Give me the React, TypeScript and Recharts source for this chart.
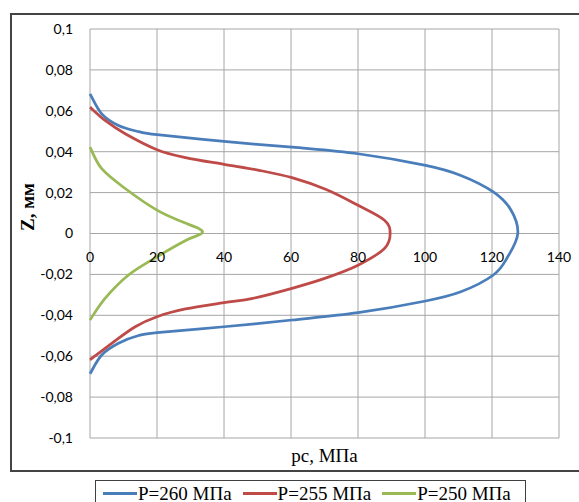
import { CartesianGrid, Legend, Line, LineChart, XAxis, YAxis } from 'recharts';

// pc, MPa ticks and Z, mm ticks
const pTicks = [0, 20, 40, 60, 80, 100, 120, 140];
const zTicks = [-0.1, -0.08, -0.06, -0.04, -0.02, 0, 0.02, 0.04, 0.06, 0.08, 0.1];

// P=260 MPa, points ordered by z
const p260 = [
  { z: -0.0686, p: 0 },
  { z: -0.0594, p: 3.5 },
  { z: -0.0537, p: 8.5 },
  { z: -0.0499, p: 14.5 },
  { z: -0.0485, p: 20 },
  { z: -0.0456, p: 40 },
  { z: -0.0423, p: 60.3 },
  { z: -0.0387, p: 80 },
  { z: -0.033, p: 100.2 },
  { z: -0.0285, p: 110.7 },
  { z: -0.0203, p: 120.4 },
  { z: -0.0114, p: 124.7 },
  { z: 0, p: 127.7 },
  { z: 0.0114, p: 125.7 },
  { z: 0.0203, p: 120.4 },
  { z: 0.0284, p: 110.7 },
  { z: 0.0333, p: 100.2 },
  { z: 0.039, p: 80 },
  { z: 0.0422, p: 60.3 },
  { z: 0.045, p: 40 },
  { z: 0.0483, p: 20 },
  { z: 0.0498, p: 14.5 },
  { z: 0.0528, p: 8.5 },
  { z: 0.0585, p: 3.5 },
  { z: 0.0683, p: 0 },
];

// P=255 MPa
const p255 = [
  { z: -0.0618, p: 0 },
  { z: -0.0537, p: 6.5 },
  { z: -0.0456, p: 13.5 },
  { z: -0.0407, p: 20 },
  { z: -0.0369, p: 28.5 },
  { z: -0.0338, p: 40 },
  { z: -0.0317, p: 48.6 },
  { z: -0.0268, p: 60.3 },
  { z: -0.0217, p: 70.5 },
  { z: -0.0155, p: 80 },
  { z: -0.0073, p: 87.9 },
  { z: 0, p: 89.6 },
  { z: 0.0065, p: 87.9 },
  { z: 0.0138, p: 80 },
  { z: 0.0215, p: 70.5 },
  { z: 0.0273, p: 60.3 },
  { z: 0.0309, p: 50.5 },
  { z: 0.0338, p: 40 },
  { z: 0.0371, p: 28.5 },
  { z: 0.041, p: 20 },
  { z: 0.0488, p: 10.5 },
  { z: 0.0553, p: 4.5 },
  { z: 0.0618, p: 0 },
];

// P=250 MPa
const p250 = [
  { z: -0.0423, p: 0 },
  { z: -0.0317, p: 4.5 },
  { z: -0.0203, p: 11.5 },
  { z: -0.0114, p: 20 },
  { z: -0.0033, p: 28.7 },
  { z: 0, p: 33.3 },
  { z: 0.0024, p: 32.5 },
  { z: 0.0057, p: 27.5 },
  { z: 0.0114, p: 20 },
  { z: 0.022, p: 10.5 },
  { z: 0.0317, p: 3.5 },
  { z: 0.0422, p: 0 },
];

const series = [
  { name: 'P=260 МПа', data: p260, color: '#4a7ebb' },
  { name: 'P=255 МПа', data: p255, color: '#be4b48' },
  { name: 'P=250 МПа', data: p250, color: '#98b954' },
];

const serif = '"Liberation Serif", "Times New Roman", serif';
const tickFont = 'Lato, sans-serif';

const fmt = (v: number) => String(Number(v.toFixed(2))).replace('.', ',');

// Excel-like smoothed line: Catmull-Rom style bezier through the points
const excelSmooth = (context: any) => {
  let pts: number[][] = [];
  return {
    areaStart() {},
    areaEnd() {},
    lineStart() {
      pts = [];
    },
    point(x: number, y: number) {
      pts.push([+x, +y]);
    },
    lineEnd() {
      if (!pts.length) return;
      context.moveTo(pts[0][0], pts[0][1]);
      for (let i = 0; i < pts.length - 1; i++) {
        const p0 = pts[Math.max(i - 1, 0)];
        const p1 = pts[i];
        const p2 = pts[i + 1];
        const p3 = pts[Math.min(i + 2, pts.length - 1)];
        context.bezierCurveTo(
          p1[0] + (p2[0] - p0[0]) / 6,
          p1[1] + (p2[1] - p0[1]) / 6,
          p2[0] - (p3[0] - p1[0]) / 6,
          p2[1] - (p3[1] - p1[1]) / 6,
          p2[0],
          p2[1],
        );
      }
    },
  };
};

// x labels sit on the z = 0 line, as in Excel
const XTick = ({ x, y, payload }: any) => (
  <text x={x} y={y - 184} textAnchor="middle" dominantBaseline="central" fontFamily={tickFont} fontSize={14} fill="#000">
    {payload.value}
  </text>
);

const LegendBox = () => (
  <div
    style={{
      display: 'flex',
      alignItems: 'center',
      height: 24,
      boxSizing: 'border-box',
      border: '1px solid #404040',
      borderBottom: 'none',
      background: '#fff',
      paddingLeft: 7,
      paddingTop: 1,
      fontFamily: serif,
      fontSize: 19,
      lineHeight: 1,
      color: '#000',
    }}
  >
    {series.map((s) => (
      <div key={s.name} style={{ display: 'flex', alignItems: 'center', marginRight: 11 }}>
        <span style={{ display: 'inline-block', width: 34, height: 3, background: s.color, marginRight: 1 }} />
        <span>{s.name}</span>
      </div>
    ))}
  </div>
);

export default function App() {
  return (
    <div style={{ position: 'absolute', left: 0, top: 0, width: 579, height: 502, overflow: 'hidden', background: '#fff' }}>
      <div
        style={{
          position: 'absolute',
          left: 10,
          top: 13,
          width: 569,
          height: 459,
          boxSizing: 'border-box',
          borderTop: '2px solid #444',
          borderLeft: '2px solid #444',
          borderBottom: '2px solid #444',
        }}
      />
      <LineChart width={579} height={502} margin={{ top: 29, right: 20, bottom: 0, left: 10 }}>
        <CartesianGrid stroke="#a6a6a6" strokeWidth={1} />
        <XAxis
          type="number"
          dataKey="p"
          domain={[0, 140]}
          ticks={pTicks}
          interval={0}
          height={64}
          tickLine={false}
          axisLine={false}
          tickSize={0}
          tick={<XTick />}
          label={{
            content: ({ viewBox }: any) => (
              <text x={viewBox.x + viewBox.width / 2} y={455} textAnchor="middle" dominantBaseline="central" fontFamily={serif} fontSize={19} fill="#000">
                pc, МПа
              </text>
            ),
          }}
        />
        <YAxis
          type="number"
          domain={[-0.1, 0.1]}
          ticks={zTicks}
          interval={0}
          width={80}
          tickFormatter={fmt}
          tickLine={false}
          axisLine={false}
          tickSize={0}
          tickMargin={17}
          tick={{ fontFamily: tickFont, fontSize: 14, fill: '#000' }}
          label={{
            content: () => (
              <text x={27} y={207} transform="rotate(-90 27 207)" textAnchor="middle" dominantBaseline="central" fontFamily={serif} fontWeight="bold" fontSize={19} fill="#000">
                Z, мм
              </text>
            ),
          }}
        />
        <Legend
          layout="horizontal"
          align="center"
          verticalAlign="middle"
          wrapperStyle={{ left: 95, top: 480, width: 431, height: 22 }}
          content={<LegendBox />}
        />
        {series.map((s) => (
          <Line
            key={s.name}
            name={s.name}
            data={s.data}
            dataKey="z"
            type={excelSmooth as any}
            stroke={s.color}
            strokeWidth={2.75}
            dot={false}
            activeDot={false}
            isAnimationActive={false}
          />
        ))}
      </LineChart>
    </div>
  );
}
